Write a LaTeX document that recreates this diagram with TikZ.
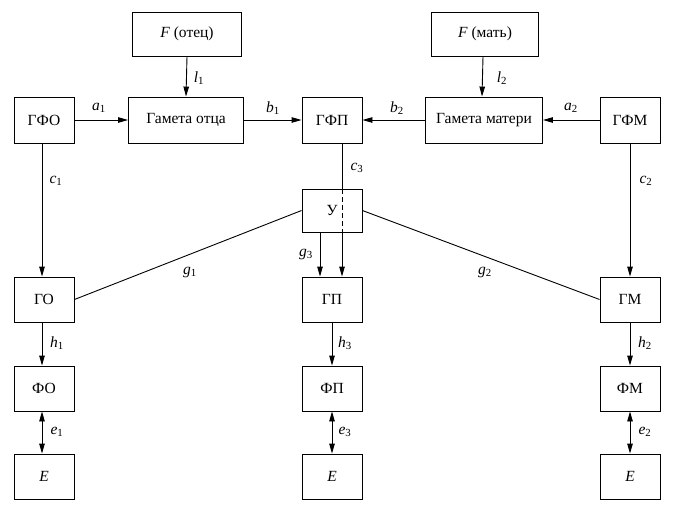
\documentclass[tikz,border=0pt]{standalone}
\usepackage{fontspec}
\setmainfont{Liberation Serif}
\usetikzlibrary{arrows.meta}
\newcommand{\lab}[2]{\textit{#1}\textsubscript{#2}}
\begin{document}
\begin{tikzpicture}[x=1pt,y=-1pt,
  box/.style={draw,line width=0.9pt,inner sep=0pt,minimum height=46pt,font=\fontsize{15.5}{18}\selectfont},
  sbox/.style={box,minimum width=60pt},
  conn/.style={line width=0.9pt},
  arr/.style={conn,-{Triangle[length=10pt,width=5.5pt]}},
  darr/.style={conn,{Triangle[length=10pt,width=5.5pt]}-{Triangle[length=10pt,width=5.5pt]}},
  lbl/.style={font=\fontsize{15.5}{18}\selectfont,inner sep=0pt}]
\useasboundingbox (0,0) rectangle (676,509);
% top row
\node[box,minimum width=109pt,minimum height=44pt] (fo) at (187,34) {\textit{F} (отец)};
\node[box,minimum width=107pt,minimum height=44pt] (fm) at (485,34) {\textit{F} (мать)};
\node[sbox] (gfo) at (44,120) {ГФО};
\node[box,minimum width=115pt] (gamo) at (186,120) {Гамета отца};
\node[sbox] (gfp) at (332,120) {ГФП};
\node[box,minimum width=117pt] (gamm) at (484,120) {Гамета матери};
\node[sbox] (gfm) at (630,120) {ГФМ};
% middle
\node[sbox,minimum height=43pt] (u) at (332,210.5) {У};
\node[sbox,minimum height=45pt] (go) at (44,299.5) {ГО};
\node[sbox,minimum height=45pt] (gp) at (332,299.5) {ГП};
\node[sbox,minimum height=45pt] (gm) at (630,299.5) {ГМ};
\node[sbox,minimum height=45pt] (fio) at (44,388.5) {ФО};
\node[sbox,minimum height=45pt] (fip) at (332,388.5) {ФП};
\node[sbox,minimum height=45pt] (fim) at (630,388.5) {ФМ};
\node[sbox,minimum height=45pt] (eo) at (44,476.5) {\textit{E}};
\node[sbox,minimum height=45pt] (ep) at (332,476.5) {\textit{E}};
\node[sbox,minimum height=45pt] (em) at (630,476.5) {\textit{E}};
% connectors
\draw[arr] (fo.south) -- (gamo.north);
\draw[arr] ([xshift=-2pt]fm.south) -- ([xshift=-2pt]gamm.north);
\draw[arr] (gfo.east) -- (gamo.west);
\draw[arr] (gamo.east) -- (gfp.west);
\draw[arr] (gamm.west) -- (gfp.east);
\draw[arr] (gfm.west) -- (gamm.east);
\draw[arr] ([xshift=-2pt]gfo.south) -- ([xshift=-2pt]go.north);
\draw[arr] (gfm.south) -- (gm.north);
\draw[conn] ([xshift=10pt]gfp.south) -- ([xshift=10pt]u.north);
\draw[conn,dashed,dash pattern=on 5pt off 3pt] ([xshift=10pt]u.north) -- ([xshift=10pt]u.south);
\draw[arr] ([xshift=10pt]u.south) -- ([xshift=10pt]gp.north);
\draw[arr] ([xshift=-12pt]u.south) -- ([xshift=-12pt]gp.north);
\draw[conn] (u.west) -- (go.east);
\draw[conn] (u.east) -- (gm.west);
\draw[arr] ([xshift=-2pt]go.south) -- ([xshift=-2pt]fio.north);
\draw[arr] (gp.south) -- (fip.north);
\draw[arr] (gm.south) -- (fim.north);
\draw[darr] ([xshift=-2pt]fio.south) -- ([xshift=-2pt]eo.north);
\draw[darr] (fip.south) -- (ep.north);
\draw[darr] (fim.south) -- (em.north);
% labels
\node[lbl] (la1) at (99,108) {\lab{a}{1}};
\node[lbl] (lb1) at (273,108) {\lab{b}{1}};
\node[lbl] (lb2) at (397,108) {\lab{b}{2}};
\node[lbl] (la2) at (571,108) {\lab{a}{2}};
\node[lbl] (ll1) at (199,78) {\lab{l}{1}};
\node[lbl] (ll2) at (502,78) {\lab{l}{2}};
\node[lbl] (lc1) at (56,181) {\lab{c}{1}};
\node[lbl] (lc3) at (357,168) {\lab{c}{3}};
\node[lbl] (lc2) at (646,181) {\lab{c}{2}};
\node[lbl] (lg3) at (306,254) {\lab{g}{3}};
\node[lbl] (lg1) at (190,272) {\lab{g}{1}};
\node[lbl] (lg2) at (485,272) {\lab{g}{2}};
\node[lbl] (lh1) at (57,343) {\lab{h}{1}};
\node[lbl] (lh3) at (345,343) {\lab{h}{3}};
\node[lbl] (lh2) at (645,343) {\lab{h}{2}};
\node[lbl] (le1) at (57,432) {\lab{e}{1}};
\node[lbl] (le3) at (345,432) {\lab{e}{3}};
\node[lbl] (le2) at (645,432) {\lab{e}{2}};
\end{tikzpicture}
\end{document}
